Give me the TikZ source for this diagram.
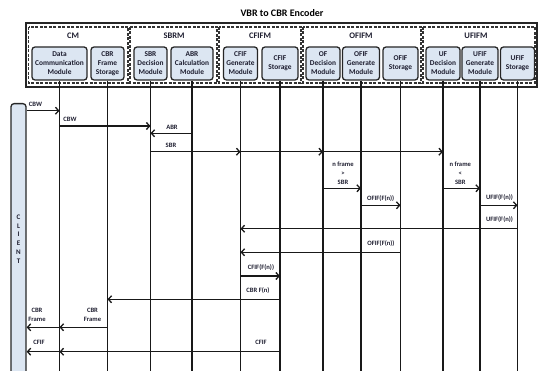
\documentclass[tikz,border=0pt]{standalone}
\usepackage{fontspec}
\setmainfont{Carlito}
\usetikzlibrary{arrows.meta}
\definecolor{modfill}{HTML}{DCE6F2}
\definecolor{txt}{HTML}{1E1E30}
\tikzset{
  module/.style={draw=black!85, line width=1.3pt, rounded corners=3pt, fill=modfill, align=center, inner sep=0pt, minimum height=33pt, font=\fontsize{7.4}{9}\selectfont\bfseries, text=txt},
  grp/.style={draw=black!80, dash pattern=on 3pt off 1.5pt, line width=1.2pt},
  grplabel/.style={font=\fontsize{8.5}{9}\selectfont\bfseries, text=txt, inner sep=0pt},
  life/.style={line width=1.3pt, draw=black!90},
  msg/.style={line width=1.3pt, draw=black!90, -{Straight Barb[length=3.2pt,width=7pt]}},
  lbl/.style={font=\fontsize{6.6}{9}\selectfont\bfseries, text=txt, align=center, inner sep=0pt},
}
\begin{document}
\begin{tikzpicture}[x=1pt,y=-1pt]
\useasboundingbox (0,0) rectangle (538,371);
\clip (0,0) rectangle (538,371);
% title
\node[font=\fontsize{10}{12}\selectfont\bfseries, text=black] (title) at (282,13.5) {VBR to CBR Encoder};
% outer box and groups
\draw[line width=1.5pt, draw=black!85] (26,23) rectangle (537,87);
\draw[grp] (28.5,27) rectangle (128,83);
\draw[grp] (130,27) rectangle (217,83);
\draw[grp] (219,27) rectangle (301,83);
\draw[grp] (303,27) rectangle (421,83);
\draw[grp] (423,27) rectangle (535,83);
\node[grplabel] (gcm) at (73,36) {CM};
\node[grplabel] (gsbrm) at (174,36) {SBRM};
\node[grplabel] (gcfifm) at (260,36) {CFIFM};
\node[grplabel] (gofifm) at (361,36) {OFIFM};
\node[grplabel] (gufifm) at (476,36) {UFIFM};
% modules
\node[module, minimum width=55pt] (dcm) at (59.5,63.5) {Data\\Communication\\Module};
\node[module, minimum width=33pt] (cbrs) at (107.5,63.5) {CBR\\Frame\\Storage};
\node[module, minimum width=33pt] (sbrd) at (150.5,63.5) {SBR\\Decision\\Module};
\node[module, minimum width=42pt] (abrc) at (192,63.5) {ABR\\Calculation\\Module};
\node[module, minimum width=34pt] (cfifg) at (240.5,63.5) {CFIF\\Generate\\Module};
\node[module, minimum width=36pt] (cfifs) at (280,63.5) {CFIF\\Storage};
\node[module, minimum width=34pt] (ofd) at (323,63.5) {OF\\Decision\\Module};
\node[module, minimum width=37pt] (ofifg) at (361,63.5) {OFIF\\Generate\\Module};
\node[module, minimum width=35pt] (ofifs) at (400.5,63.5) {OFIF\\Storage};
\node[module, minimum width=34pt] (ufd) at (443,63.5) {UF\\Decision\\Module};
\node[module, minimum width=36pt] (ufifg) at (480,63.5) {UFIF\\Generate\\Module};
\node[module, minimum width=34pt] (ufifs) at (517.5,63.5) {UFIF\\Storage};
% lifelines
\foreach \m in {dcm,cbrs,sbrd,abrc,cfifg,cfifs,ofd,ofifg,ofifs,ufd,ufifg,ufifs}{
  \draw[life] (\m.south) -- (\m.south |- 0,375);
}
% client
\node[draw=black!85, line width=1.3pt, fill=modfill, rounded corners=3pt, minimum width=15pt, minimum height=290pt, anchor=north, inner sep=0pt] (client) at (18.5,103) {};
\node[lbl, font=\fontsize{7}{8.8}\selectfont\bfseries] (cltxt) at (18.5,239) {C\\L\\I\\E\\N\\T};
% messages
\draw[msg] (client.east |- 0,110.7) -- (dcm |- 0,110.7);
\node[lbl] (l1) at (35.5,104) {CBW};
\draw[msg] (dcm |- 0,126) -- (sbrd |- 0,126);
\node[lbl] (l2) at (70,119.3) {CBW};
\draw[msg] (abrc |- 0,133.3) -- (sbrd |- 0,133.3);
\node[lbl] (l3) at (172,127.3) {ABR};
\draw[msg] (sbrd |- 0,151.7) -- (cfifg |- 0,151.7);
\draw[msg] (cfifg |- 0,151.7) -- (ofd |- 0,151.7);
\draw[msg] (ofd |- 0,151.7) -- (ufd |- 0,151.7);
\node[lbl] (l4) at (171,145.7) {SBR};
\node[lbl] (l5) at (343,173) {n frame\\>\\SBR};
\draw[msg] (ofd |- 0,188.3) -- (ofifg |- 0,188.3);
\node[lbl] (l6) at (460.3,173) {n frame\\<\\SBR};
\draw[msg] (ufd |- 0,188.3) -- (ufifg |- 0,188.3);
\node[lbl] (l7) at (380.7,198.7) {OFIF(F(n))};
\draw[msg] (ofifg |- 0,205.3) -- (ofifs |- 0,205.3);
\node[lbl] (l8) at (499.5,197.5) {UFIF(F(n))};
\draw[msg] (ufifg |- 0,205.3) -- (ufifs |- 0,205.3);
\node[lbl] (l9) at (499.5,220) {UFIF(F(n))};
\draw[msg] (ufifs |- 0,228.7) -- (cfifg |- 0,228.7);
\node[lbl] (l10) at (381,244) {OFIF(F(n))};
\draw[msg] (ofifs |- 0,252.3) -- (cfifg |- 0,252.3);
\node[lbl] (l11) at (261,268) {CFIF(F(n))};
\draw[msg] (cfifg |- 0,276) -- (cfifs |- 0,276);
\node[lbl] (l12) at (258,290.7) {CBR F(n)};
\draw[msg] (cfifs |- 0,299.3) -- (cbrs |- 0,299.3);
\node[lbl] (l13) at (37,315.3) {CBR\\Frame};
\node[lbl] (l14) at (92.5,315.3) {CBR\\Frame};
\draw[msg] (cbrs |- 0,327.3) -- (dcm |- 0,327.3);
\draw[msg] (dcm |- 0,327.3) -- (client.east |- 0,327.3);
\node[lbl] (l15) at (39,342.7) {CFIF};
\node[lbl] (l16) at (261,342.7) {CFIF};
\draw[msg] (cfifs |- 0,351.7) -- (dcm |- 0,351.7);
\draw[msg] (dcm |- 0,351.7) -- (client.east |- 0,351.7);
\end{tikzpicture}
\end{document}
